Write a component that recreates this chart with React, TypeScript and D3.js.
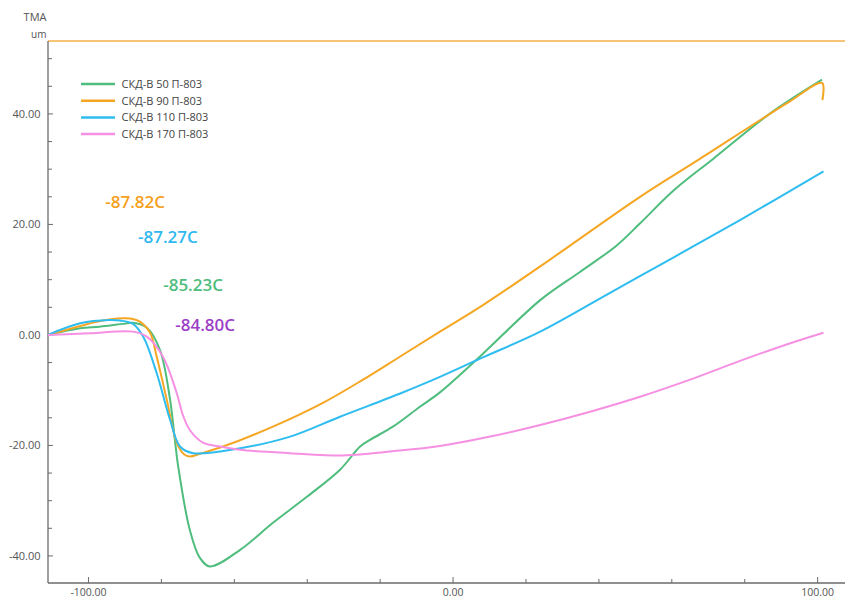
import React from "react";
import * as d3 from "d3";

const seriesNames = ["СКД-В 50 П-803", "СКД-В 90 П-803", "СКД-В 110 П-803", "СКД-В 170 П-803"];
const seriesColors = ["#4fbd7e", "#f5a623", "#2fbdf0", "#f590e2"];

const green: [number, number][] = [
  [-111.1, 0], [-102.3, 1.2], [-97, 1.5], [-90.5, 2.0], [-87.8, 2.2], [-84.0, 1.3], [-80.4, -2.7],
  [-77.6, -11.8], [-76.3, -19.0], [-75.4, -23.8], [-72.2, -35.3], [-69.5, -40.3], [-66.7, -41.9],
  [-58.4, -38.9], [-49.4, -34.0], [-40.1, -29.3], [-31.0, -24.4], [-25.5, -20.2], [-22.8, -19.0],
  [-16.5, -16.6], [-9.1, -13.0], [-3.6, -10.4], [7.4, -3.9], [23.9, 6.3], [34.8, 11.4], [44.9, 16.2],
  [51.3, 20.2], [60.4, 26.1], [71.4, 31.9], [87.0, 40.1], [101.2, 46.2],
];
const orange: [number, number][] = [
  [-111.1, 0], [-102.3, 1.6], [-97.7, 2.4], [-90.5, 3.0], [-87.8, 2.9], [-85.9, 2.4], [-83.1, 0.4], [-81.3, -3.9],
  [-78.5, -11.8], [-75.8, -19.5], [-73.8, -21.6], [-72.2, -22.0], [-69.4, -21.5], [-63.1, -20.2],
  [-49.4, -16.6], [-35.7, -12.3], [-24.7, -8.1], [-14.5, -3.9], [-3.6, 0.6], [8.2, 5.4], [23.9, 12.4],
  [51.3, 25.0], [67.8, 31.9], [91.5, 41.9], [101.2, 45.6], [101.3, 42.5],
];
const blue: [number, number][] = [
  [-111.1, 0], [-102.3, 2.1], [-94.2, 2.7], [-91.4, 2.6], [-87.8, 2.0], [-85.0, -0.3], [-81.3, -6.9],
  [-77.6, -15.4], [-74.9, -20.2], [-71.3, -21.4], [-58.4, -20.5], [-44.7, -18.4], [-31.0, -14.8],
  [-14.5, -10.6], [-3.6, -7.6], [7.4, -4.3], [23.9, 0.6], [42.2, 7.3], [60.4, 14.0], [78.7, 20.8], [101.6, 29.6],
];
const pink: [number, number][] = [
  [-111.1, 0], [-99.6, 0.3], [-87.8, 0.6], [-84.0, -0.3], [-79.6, -3.9], [-75.8, -10.5], [-74.1, -14.5],
  [-72.2, -17.2], [-68.6, -19.5], [-63.9, -20.2], [-58.4, -20.8], [-44.7, -21.4], [-29.2, -21.8],
  [-17.3, -21.1], [-3.6, -20.1], [10.2, -18.4], [23.9, -16.3], [37.6, -13.9], [51.3, -11.2], [65.0, -8.1],
  [78.7, -4.7], [92.5, -1.5], [101.6, 0.4],
];
const allSeries = [green, orange, blue, pink];

const annotations = ["-87.82C", "-87.27C", "-85.23C", "-84.80C"];
const annotationColors = ["#f5a020", "#30b8f0", "#4fbd7e", "#9b3fc8"];
const annotationPos: [number, number][] = [[-95.4, 22.9], [-86.4, 16.7], [-79.5, 8.0], [-76.2, 0.8]];

const yTicks = [-40, -20, 0, 20, 40];
const xTicks = [-100, 0, 100];

const W = 845, H = 599;
const left = 48, right = 845, top = 41, bottom = 583;

export default function App() {
  const x = d3.scaleLinear().domain([-111.1, 107.5]).range([left, right]);
  const y = d3.scaleLinear().domain([-44.9, 53.2]).range([bottom, top]);
  const line = d3.line<[number, number]>().x(d => x(d[0])).y(d => y(d[1])).curve(d3.curveCatmullRom.alpha(0.5));
  const yMinor = d3.range(-40, 53, 5);
  const xMinor = d3.range(-100, 107, 20);
  const font = "'Open Sans', 'Noto Sans', sans-serif";
  const axisColor = "#6b6b6b";
  return (
    <svg width={W} height={H} style={{ position: "absolute", left: 0, top: 0, background: "#fff" }} fontFamily={font}>
      <text x={46.5} y={21} textAnchor="end" fontSize={11} fill="#555">TMA</text>
      <text x={46.5} y={38} textAnchor="end" fontSize={10} fill="#555">um</text>
      <line x1={left} x2={right} y1={top} y2={top} stroke="#f5b24a" strokeWidth={1.5} />
      <line x1={left} x2={left} y1={top} y2={bottom} stroke={axisColor} strokeWidth={1.3} />
      <line x1={left} x2={right} y1={bottom} y2={bottom} stroke={axisColor} strokeWidth={1.3} />
      {yMinor.map(v => (
        <line key={"ym" + v} x1={left} x2={left + (v % 20 === 0 ? 5 : 4)} y1={y(v)} y2={y(v)} stroke={axisColor} />
      ))}
      {yTicks.map(v => (
        <text key={"yt" + v} x={40.5} y={y(v) + 4} textAnchor="end" fontSize={11} fill="#555">{v.toFixed(2)}</text>
      ))}
      {xMinor.map(v => (
        <line key={"xm" + v} x1={x(v)} x2={x(v)} y1={bottom} y2={bottom - (v % 100 === 0 ? 6 : 4)} stroke={axisColor} />
      ))}
      {xTicks.map(v => (
        <text key={"xt" + v} x={x(v)} y={596} textAnchor="middle" fontSize={10.5} fill="#555">{v.toFixed(2)}</text>
      ))}
      {allSeries.map((s, i) => (
        <path key={"s" + i} d={line(s) || ""} fill="none" stroke={seriesColors[i]} strokeWidth={2} strokeLinejoin="round" />
      ))}
      {seriesNames.map((n, i) => (
        <g key={"lg" + i} transform={`translate(81, ${84 + i * 16.7})`}>
          <line x1={0} x2={34} y1={0} y2={0} stroke={seriesColors[i]} strokeWidth={2.5} />
          <text x={40.5} y={4} fontSize={11} fill="#444">{n}</text>
        </g>
      ))}
      {annotations.map((a, i) => (
        <text key={"an" + i} x={x(annotationPos[i][0])} y={y(annotationPos[i][1])} fontSize={17} fontWeight={600} fill={annotationColors[i]}>{a}</text>
      ))}
    </svg>
  );
}
